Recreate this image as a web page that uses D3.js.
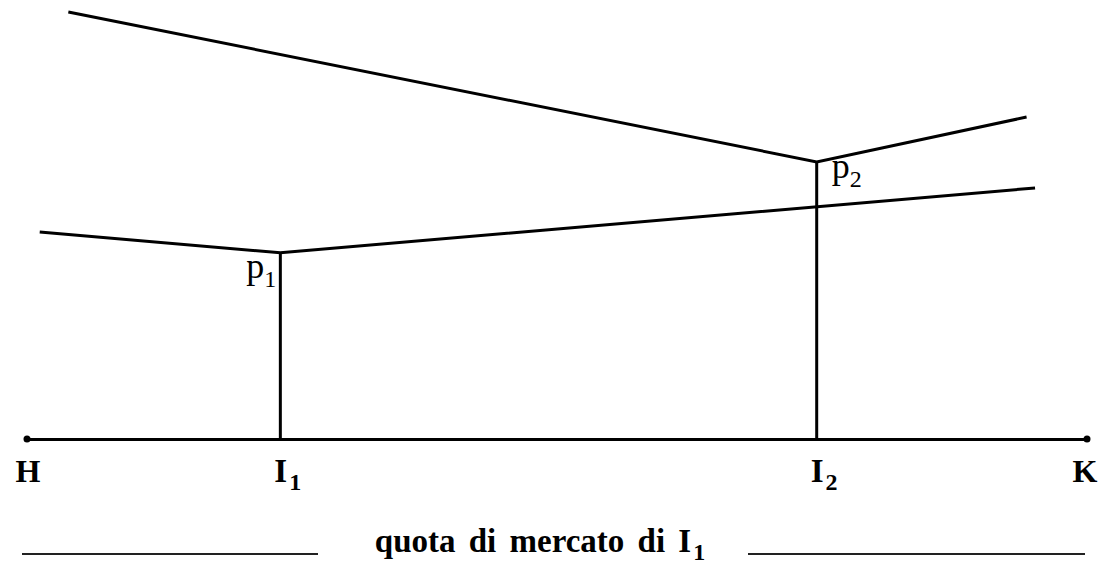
<!DOCTYPE html>
<html>
<head>
<meta charset="utf-8">
<script src="https://cdn.jsdelivr.net/npm/d3@7"></script>
<style>
body { margin: 0; background: #fff; }
svg { display: block; }
.lbl { font-family: "Liberation Serif", "Times New Roman", serif; fill: #000; }
.bold { font-weight: bold; }
</style>
</head>
<body>
<div id="chart"></div>
<script>

// market share of I1 runs from H (0) to K (100); price on the vertical
var upperLine = [[3.9, 100], [74.5, 64.9], [94.3, 75.4]];
var lowerLine = [[1.2, 48.5], [23.9, 43.6], [95.1, 58.8]];
var firms = [
  {name: "I", sub: "1", share: 23.9, price: 43.6, p: "1"},
  {name: "I", sub: "2", share: 74.5, price: 64.9, p: "2"}
];
var ends = [{name: "H", share: 0}, {name: "K", share: 100}];
var axisTitle = "quota di mercato di ";

var width = 1102, height = 570;

var x = d3.scaleLinear().domain([0, 100]).range([27, 1087]);
var y = d3.scaleLinear().domain([0, 100]).range([439, 12]);

var svg = d3.select("#chart").append("svg")
    .attr("width", width)
    .attr("height", height);

var line = d3.line()
    .x(function(d) { return x(d[0]); })
    .y(function(d) { return y(d[1]); });

// horizontal axis, no ticks
var ax = svg.append("g")
    .attr("transform", "translate(0," + y(0) + ")")
    .call(d3.axisBottom(x).tickValues([]).tickSizeOuter(0));
ax.select(".domain").attr("stroke", "#000").attr("stroke-width", 3);

svg.selectAll(".enddot")
  .data(ends)
  .enter().append("circle")
    .attr("cx", function(d) { return x(d.share); })
    .attr("cy", y(0))
    .attr("r", 3.5)
    .attr("fill", "#000");

svg.selectAll(".curve")
  .data([upperLine, lowerLine])
  .enter().append("path")
    .attr("d", line)
    .attr("fill", "none")
    .attr("stroke", "#000")
    .attr("stroke-width", 3);

svg.selectAll(".drop")
  .data(firms)
  .enter().append("line")
    .attr("x1", function(d) { return x(d.share); })
    .attr("x2", function(d) { return x(d.share); })
    .attr("y1", function(d) { return y(d.price); })
    .attr("y2", y(0))
    .attr("stroke", "#000")
    .attr("stroke-width", 3);

// H and K
svg.selectAll(".endlbl")
  .data(ends)
  .enter().append("text")
    .attr("class", "lbl bold")
    .attr("x", function(d) { return x(d.share) + (d.share === 0 ? 1 : -2); })
    .attr("y", y(0) + 43)
    .attr("text-anchor", "middle")
    .style("font-size", "32px")
    .text(function(d) { return d.name; });

// I1, I2
var fl = svg.selectAll(".firmlbl")
  .data(firms)
  .enter().append("text")
    .attr("class", "lbl bold")
    .attr("x", function(d) { return x(d.share) - 6; })
    .attr("y", y(0) + 43)
    .style("font-size", "33px");
fl.append("tspan").text(function(d) { return d.name; });
fl.append("tspan")
    .attr("dy", 8)
    .attr("dx", 2)
    .style("font-size", "24px")
    .text(function(d) { return d.sub; });

// p1, p2
var pl = svg.selectAll(".plbl")
  .data(firms)
  .enter().append("text")
    .attr("class", "lbl")
    .attr("x", function(d, i) { return i === 0 ? x(d.share) - 34 : x(d.share) + 15; })
    .attr("y", function(d, i) { return y(d.price) + (i === 0 ? 25 : 16); })
    .style("font-size", "36px");
pl.append("tspan").text("p");
pl.append("tspan")
    .attr("dy", 9)
    .attr("dx", 0)
    .style("font-size", "24px")
    .text(function(d) { return d.p; });

// axis title with rules on either side
var tt = svg.append("text")
    .attr("class", "lbl bold")
    .attr("x", 540)
    .attr("y", 552)
    .attr("text-anchor", "middle")
    .style("font-size", "33px")
    .style("word-spacing", "5px");
tt.append("tspan").text(axisTitle + "I");
tt.append("tspan")
    .attr("dy", 8)
    .attr("dx", 2)
    .style("font-size", "24px")
    .text("1");

svg.selectAll(".rule")
  .data([[22, 318], [748, 1085]])
  .enter().append("line")
    .attr("x1", function(d) { return d[0]; })
    .attr("x2", function(d) { return d[1]; })
    .attr("y1", 554)
    .attr("y2", 554)
    .attr("stroke", "#222")
    .attr("stroke-width", 2);

</script>
</body>
</html>
